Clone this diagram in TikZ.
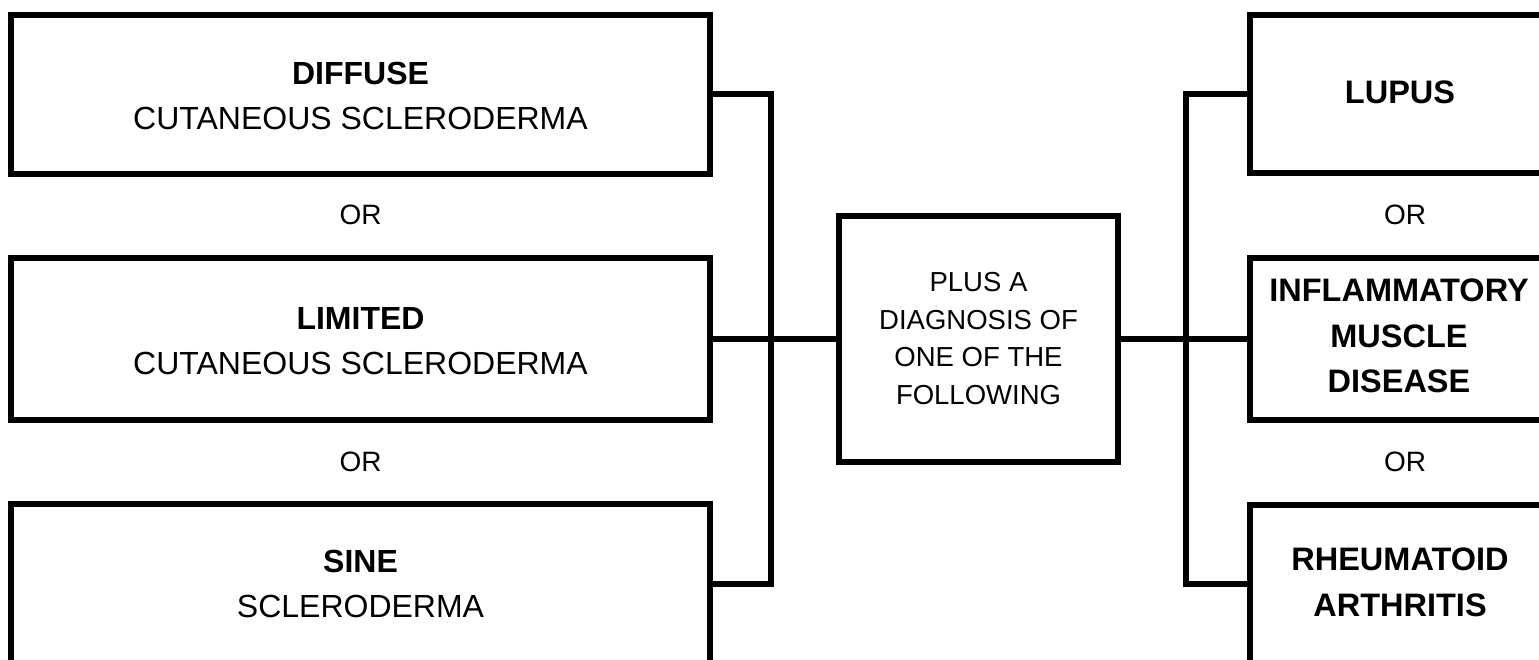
\documentclass[tikz,border=0pt]{standalone}
\usepackage{fontspec}
\setmainfont{Liberation Sans}
\begin{document}
\begin{tikzpicture}[x=1pt,y=-1pt,
  box/.style={draw,line width=6pt,fill=white,inner sep=0pt,outer sep=0pt},
  link/.style={line width=6pt},
  txt/.style={align=center,inner sep=0pt,font=\fontsize{32}{45}\selectfont},
  rtxt/.style={align=center,inner sep=0pt,font=\fontsize{32.5}{45.5}\selectfont\bfseries},
  ctxt/.style={align=center,inner sep=0pt,font=\fontsize{27.5}{37.7}\selectfont},
  ortxt/.style={inner sep=0pt,font=\fontsize{28}{30}\selectfont}]
\useasboundingbox (0,0) rectangle (1539,660);
\clip (0,0) rectangle (1539,660);
% boxes
\node[box,minimum width=699pt,minimum height=159pt] (diffuse) at (360.5,94.5) {};
\node[box,minimum width=699pt,minimum height=162pt] (limited) at (360.5,339) {};
\node[box,minimum width=699pt,minimum height=159pt] (sine) at (360.5,583.5) {};
\node[box,minimum width=279pt,minimum height=245pt] (plus) at (978.5,339) {};
\node[box,minimum width=300pt,minimum height=158pt] (lupus) at (1400,94.5) {};
\node[box,minimum width=300pt,minimum height=162pt] (imd) at (1400,339) {};
\node[box,minimum width=300pt,minimum height=158pt] (ra) at (1400,583.5) {};
% connectors
\coordinate (jl) at (771,339);
\coordinate (jr) at (1186,339);
\draw[link] (diffuse.east) -| (jl) |- (sine.east);
\draw[link] (limited.east) -- (plus.west);
\draw[link] (lupus.west) -| (jr) |- (ra.west);
\draw[link] (plus.east) -- (imd.west);
% texts
\node[txt] (diffuset) at (360.5,95.5) {\textbf{DIFFUSE}\\CUTANEOUS SCLERODERMA};
\node[txt] (limitedt) at (360.5,341) {\textbf{LIMITED}\\CUTANEOUS SCLERODERMA};
\node[txt] (sinet) at (360.5,584) {\textbf{SINE}\\SCLERODERMA};
\node[ortxt] (or1) at (360.5,215) {OR};
\node[ortxt] (or2) at (360.5,462) {OR};
\node[ctxt] (plust) at (978.5,338.5) {PLUS A\\DIAGNOSIS OF\\ONE OF THE\\FOLLOWING};
\node[rtxt] (lupust) at (1400,92.5) {LUPUS};
\node[rtxt] (imdt) at (1399,336) {INFLAMMATORY\\MUSCLE\\DISEASE};
\node[rtxt] (rat) at (1400,582.5) {RHEUMATOID\\ARTHRITIS};
\node[ortxt] (or3) at (1405,215) {OR};
\node[ortxt] (or4) at (1405,462) {OR};
\end{tikzpicture}
\end{document}
